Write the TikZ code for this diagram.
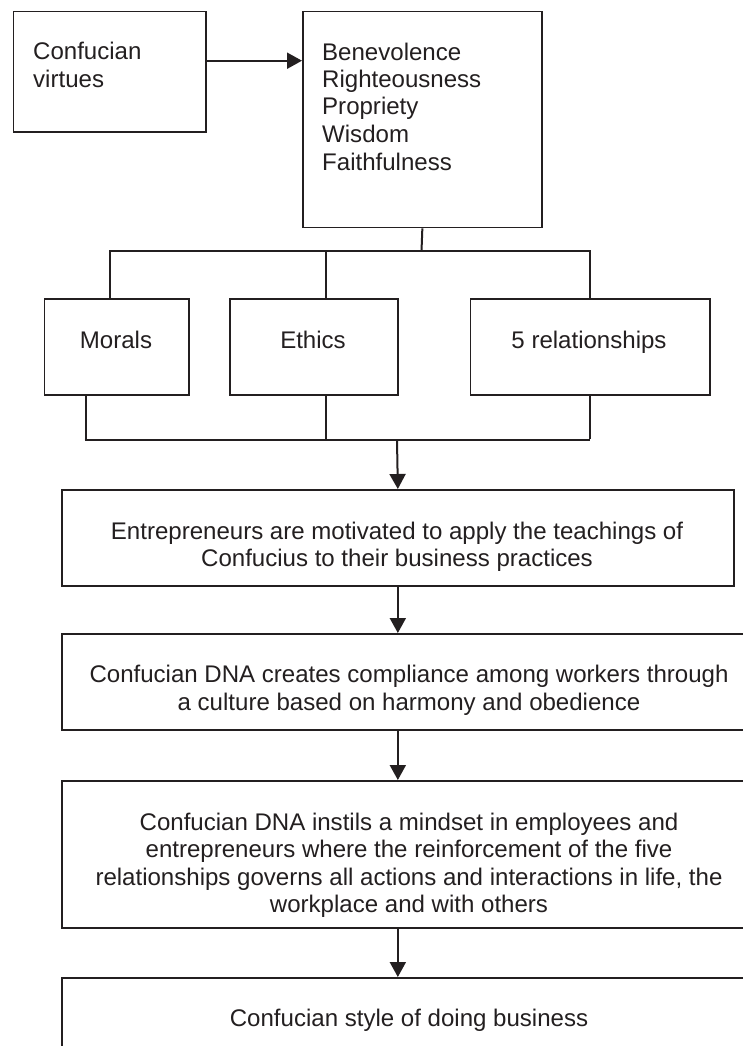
\documentclass[tikz,border=0pt]{standalone}
\usepackage{fontspec}
\setmainfont{Liberation Sans}
\usetikzlibrary{arrows.meta}
\definecolor{ink}{RGB}{35,31,32}
\begin{document}
\begin{tikzpicture}[x=1pt,y=-1pt,
  box/.style={draw=ink, line width=1.7pt, rectangle, inner sep=0pt, anchor=north west},
  conn/.style={draw=ink, line width=2pt},
  arr/.style={conn, -{Triangle[length=15pt,width=16pt]}},
  txt/.style={text=ink, inner sep=0pt, font=\fontsize{24.05}{27.5}\selectfont},
]
\useasboundingbox (0,0) rectangle (743,1046);
\clip (0,0) rectangle (743,1046);

% boxes
\node[box, minimum width=192.3pt, minimum height=120.3pt] (virt) at (12.7,10.7) {};
\node[box, minimum width=239pt, minimum height=216pt] (list) at (302,10.7) {};
\node[box, minimum width=144.4pt, minimum height=96pt] (morals) at (43.6,298) {};
\node[box, minimum width=168pt, minimum height=96pt] (ethics) at (229,298) {};
\node[box, minimum width=239.5pt, minimum height=96pt] (rel) at (469.5,298) {};
\node[box, minimum width=672pt, minimum height=96pt] (ent) at (61,489) {};
\node[box, minimum width=696pt, minimum height=96pt] (dna) at (61,633) {};
\node[box, minimum width=696pt, minimum height=147pt] (mind) at (61,780) {};
\node[box, minimum width=696pt, minimum height=110pt] (style) at (61,977) {};

% texts (base anchor = baseline of the last line)
\node[txt, anchor=base west, align=left] (tvirt) at (33,87.5) {Confucian\\virtues};
\node[txt, anchor=base west, align=left] (tlist) at (322,170) {Benevolence\\Righteousness\\Propriety\\Wisdom\\Faithfulness};
\node[txt, anchor=base] (tmorals) at (116,348) {Morals};
\node[txt, anchor=base] (tethics) at (313,348) {Ethics};
\node[txt, anchor=base] (trel) at (589,348) {5 relationships};
\node[txt, anchor=base, align=center] (tent) at (397,566.5) {Entrepreneurs are motivated to apply the teachings of\\Confucius to their business practices};
\node[txt, anchor=base, align=center] (tdna) at (409,710.2) {Confucian DNA creates compliance among workers through\\a culture based on harmony and obedience};
\node[txt, anchor=base, align=center] (tmind) at (409,912.5) {Confucian DNA instils a mindset in employees and\\entrepreneurs where the reinforcement of the five\\relationships governs all actions and interactions in life, the\\workplace and with others};
\node[txt, anchor=base] (tstyle) at (409,1026.7) {Confucian style of doing business};

% connectors
\draw[arr] ([yshift=11pt]virt.east) -- ([yshift=11pt]virt.east -| list.west);

\coordinate (j1) at (421.5,251);
\draw[conn] (list.south) -- (j1);
\draw[conn] ([xshift=-7pt]morals.north) |- (j1) -| ([xshift=-0.3pt]rel.north);
\draw[conn] ([xshift=12pt]ethics.north) -- ([xshift=12pt]ethics.north |- j1);

\coordinate (j2) at (397,440);
\draw[conn] ([xshift=-31pt]morals.south) -- ([xshift=-31pt,yshift=-43pt]morals.south);
\draw[conn] ([xshift=12pt]ethics.south) -- ([xshift=12pt,yshift=-43pt]ethics.south);
\draw[conn] ([xshift=-0.3pt]rel.south) -- ([xshift=-0.3pt,yshift=-43pt]rel.south);
\draw[conn] ([xshift=-32pt]morals.south |- j2) -- ([xshift=-0.3pt]rel.south |- j2);
\draw[arr] (j2) -- (ent.north);

\draw[arr] (ent.south) -- (ent.south |- dna.north);
\draw[arr] (ent.south |- dna.south) -- (ent.south |- mind.north);
\draw[arr] (ent.south |- mind.south) -- (ent.south |- style.north);
\end{tikzpicture}
\end{document}
